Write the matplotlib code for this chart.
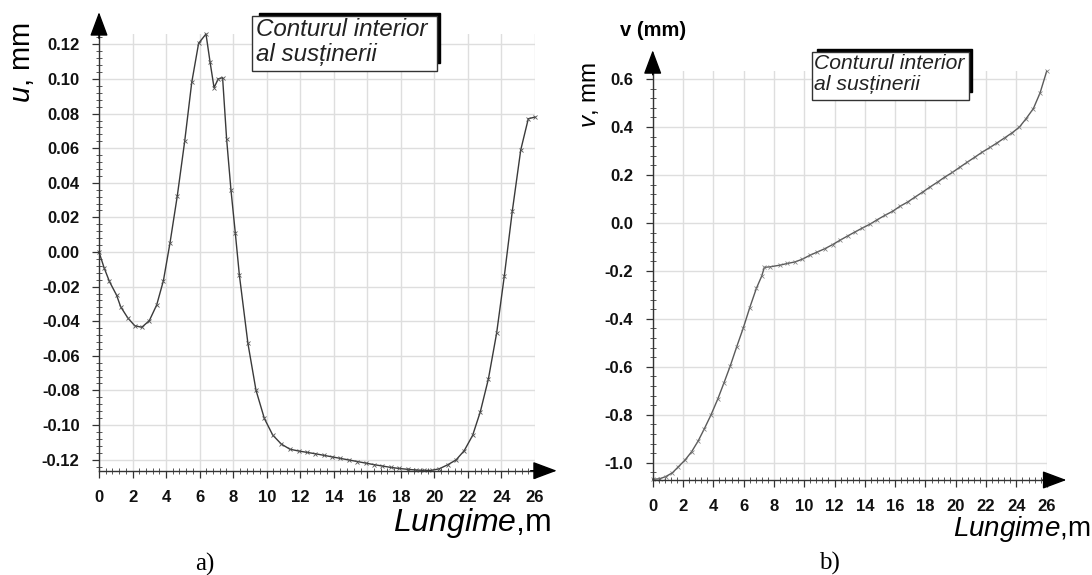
import matplotlib
matplotlib.use('Agg')
import matplotlib.pyplot as plt
from matplotlib.patches import Rectangle
from matplotlib.ticker import MultipleLocator

plt.rcParams['font.family'] = ['Liberation Sans', 'DejaVu Sans']
plt.rcParams['mathtext.fontset'] = 'custom'
plt.rcParams['mathtext.rm'] = 'Liberation Sans'
plt.rcParams['mathtext.it'] = 'Liberation Sans:italic'

# ===================== data: a) horizontal displacement u =====================
u_x = [0.0, 0.3, 0.62, 1.05, 1.29, 1.71, 2.13, 2.55, 3.0, 3.44, 3.84, 4.23, 4.67,
       5.11, 5.53, 5.94, 6.38, 6.62, 6.86, 7.11, 7.37, 7.61, 7.87, 8.13, 8.37,
       8.88, 9.36, 9.86, 10.36, 10.87, 11.39, 11.9, 12.4, 12.9, 13.4, 13.9, 14.4,
       14.9, 15.4, 15.9, 16.4, 16.9, 17.4, 17.9, 18.4, 18.9, 19.4, 19.84, 20.29,
       20.79, 21.29, 21.78, 22.28, 22.74, 23.22, 23.71, 24.17, 24.65, 25.15,
       25.6, 26.0]
u_val = [0.0, -0.009, -0.017, -0.025, -0.0316, -0.038, -0.0426, -0.0435, -0.0397,
         -0.0306, -0.0166, 0.005, 0.0325, 0.064, 0.098, 0.1206, 0.126, 0.110,
         0.095, 0.100, 0.1008, 0.0653, 0.0358, 0.0108, -0.0133, -0.0528, -0.0798,
         -0.0962, -0.1058, -0.111, -0.114, -0.1150, -0.1158, -0.1166, -0.1175,
         -0.1184, -0.1193, -0.1202, -0.1211, -0.1220, -0.1229, -0.1237, -0.1245,
         -0.1251, -0.1256, -0.1260, -0.1262, -0.1262, -0.1253, -0.1230, -0.1202,
         -0.1148, -0.106, -0.0923, -0.0734, -0.047, -0.0139, 0.0239, 0.059,
         0.077, 0.078]

# ===================== data: b) vertical displacement v =====================
v_x = [0.0, 0.45, 0.85, 1.3, 1.69, 2.13, 2.57, 3.01, 3.41, 3.85, 4.29, 4.69, 5.12,
       5.54, 5.98, 6.4, 6.84, 7.19, 7.37, 7.74, 8.4, 8.88, 9.39, 9.88, 10.38,
       10.87, 11.37, 11.88, 12.36, 12.87, 13.35, 13.84, 14.34, 14.83, 15.33,
       15.84, 16.32, 16.83, 17.31, 17.82, 18.3, 18.81, 19.29, 19.78, 20.28,
       20.77, 21.27, 21.76, 22.26, 22.75, 23.25, 23.74, 24.2, 24.64, 25.12,
       25.56, 26.0]
v_val = [-1.069, -1.067, -1.058, -1.042, -1.017, -0.989, -0.954, -0.908, -0.858,
         -0.80, -0.735, -0.669, -0.596, -0.517, -0.4375, -0.354, -0.273, -0.222,
         -0.185, -0.183, -0.176, -0.169, -0.1625, -0.151, -0.1345, -0.121, -0.107,
         -0.090, -0.072, -0.054, -0.0375, -0.021, -0.005, 0.014, 0.032, 0.049,
         0.0696, 0.0875, 0.108, 0.129, 0.15, 0.171, 0.192, 0.211, 0.233, 0.254,
         0.275, 0.296, 0.315, 0.335, 0.356, 0.377, 0.40, 0.435, 0.477, 0.542,
         0.633]

x_ticks = list(range(0, 27, 2))
u_ticks = [-0.12, -0.10, -0.08, -0.06, -0.04, -0.02, 0.00, 0.02, 0.04, 0.06, 0.08, 0.10, 0.12]
u_labels = ['%.2f' % t for t in u_ticks]
v_ticks = [-1.0, -0.8, -0.6, -0.4, -0.2, 0.0, 0.2, 0.4, 0.6]
v_labels = ['%.1f' % t for t in v_ticks]
box_text = 'Conturul interior\nal susținerii'

W, H = 1092, 575
fig = plt.figure(figsize=(W / 100, H / 100), dpi=100)

def fx(px):  # pixel -> figure fraction
    return px / W

def fy(py):
    return 1 - py / H

def make_axes(left, right, top, bottom, ylim, yticks, ylabels, xminor, yminor):
    ax = fig.add_axes([fx(left), fy(bottom), fx(right - left), fy(top) - fy(bottom)])
    ax.set_xlim(0, 26)
    ax.set_ylim(*ylim)
    ax.set_xticks(x_ticks)
    ax.set_xticklabels([str(t) for t in x_ticks])
    ax.set_yticks(yticks)
    ax.set_yticklabels(ylabels)
    ax.xaxis.set_minor_locator(MultipleLocator(xminor))
    ax.yaxis.set_minor_locator(MultipleLocator(yminor))
    ax.grid(True, which='major', color='#dedede', lw=1.0)
    ax.set_axisbelow(True)
    for s in ['top', 'right']:
        ax.spines[s].set_visible(False)
    for s in ['left', 'bottom']:
        ax.spines[s].set_color('#333333')
        ax.spines[s].set_linewidth(1.0)
    ax.tick_params(which='major', direction='out', length=5, width=0.9, color='#333333',
                   labelsize=12, pad=9)
    ax.tick_params(which='minor', direction='inout', length=5, width=0.7, color='#555555')
    for lab in ax.get_xticklabels() + ax.get_yticklabels():
        lab.set_fontweight('bold')
        lab.set_color('#111111')
    # arrows at ends of axes
    arr = dict(arrowstyle='-|>,head_length=0.75,head_width=0.28', mutation_scale=20,
               color='black', lw=1.0, shrinkA=0, shrinkB=0)
    ax.annotate('', xy=(0, 1.05), xytext=(0, 0.99), xycoords='axes fraction',
                arrowprops=arr, annotation_clip=False)
    ax.annotate('', xy=(1.05, 0), xytext=(0.99, 0), xycoords='axes fraction',
                arrowprops=arr, annotation_clip=False)
    return ax

# ===================== a) =====================
ax1 = make_axes(99, 535, 34, 470.7, (-0.1264, 0.126), u_ticks, u_labels, 0.4, 0.004)
ax1.plot(u_x, u_val, color='#3a3a3a', lw=1.0, marker='x', ms=3, mew=0.6,
         mec='#555555', clip_on=False)

# ===================== b) =====================
ax2 = make_axes(652.7, 1046.7, 70.7, 480, (-1.072, 0.635), v_ticks, v_labels, 0.4, 0.04)
ax2.plot(v_x, v_val, color='#5a5a5a', lw=1.0, marker='x', ms=2.5, mew=0.5,
         mec='#777777', clip_on=False)

# axis titles
fig.text(fx(22), fy(63), r'$\mathit{u}$, mm', rotation=90, ha='center', va='center', fontsize=21)
fig.text(fx(590), fy(95), r'$\mathit{v}$, mm', rotation=90, ha='center', va='center', fontsize=17.5)
fig.text(fx(653), fy(30), 'v (mm)', ha='center', va='center', fontsize=14.5, fontweight='bold')
fig.text(fx(551), fy(531), r'$\mathit{Lungime}$,m', ha='right', va='baseline', fontsize=23)
fig.text(fx(1090), fy(536), r'$\mathit{Lungime}$,m', ha='right', va='baseline', fontsize=20)
fig.text(fx(205), fy(571), 'a)', ha='center', va='baseline', fontsize=18, family='Liberation Serif')
fig.text(fx(829), fy(570), 'b)', ha='center', va='baseline', fontsize=18, family='Liberation Serif')

# legend-like boxes with shadow
def shadow_box(x0, y0, x1, y1, sx0, sy0, sx1, sy1, tx, ty, fs):
    fig.patches.append(Rectangle((fx(sx0), fy(sy1)), fx(sx1 - sx0), fy(sy0) - fy(sy1),
                                 transform=fig.transFigure, facecolor='black', edgecolor='black'))
    fig.patches.append(Rectangle((fx(x0), fy(y1)), fx(x1 - x0), fy(y0) - fy(y1),
                                 transform=fig.transFigure, facecolor='white',
                                 edgecolor='#333333', lw=1.0))
    fig.text(fx(tx), fy(ty), box_text, ha='left', va='top', fontsize=fs, style='italic',
             color='#222222', linespacing=1.1)

shadow_box(252, 16, 437, 71, 259, 12.7, 440, 63, 256, 18, 17.4)
shadow_box(812, 52, 969, 100, 817, 49.5, 971.5, 92, 814, 54, 15.2)

fig.savefig('out.png', dpi=100)
